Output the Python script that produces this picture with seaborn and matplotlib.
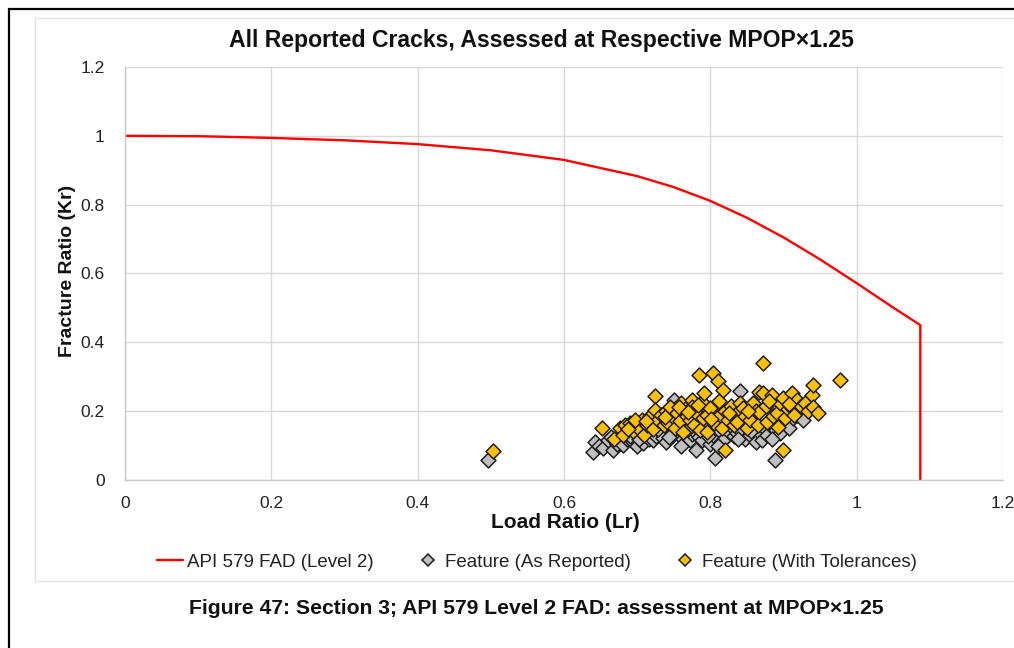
import matplotlib
matplotlib.use("Agg")
import matplotlib.pyplot as plt
import seaborn as sns
import pandas as pd
from matplotlib.patches import Rectangle
from matplotlib.lines import Line2D

# ---------------- data ----------------
fad_lr = [0.0, 0.1, 0.2, 0.3, 0.4, 0.5, 0.6, 0.7, 0.75, 0.8, 0.85, 0.9, 0.95, 1.0, 1.05, 1.087, 1.087]
fad_kr = [1.0, 0.999, 0.994, 0.987, 0.976, 0.958, 0.930, 0.883, 0.851, 0.811, 0.762, 0.705, 0.641, 0.572, 0.501, 0.450, 0.0]

rep_lr = [0.496, 0.639, 0.642, 0.648, 0.653, 0.660, 0.667, 0.672, 0.680, 0.686, 0.694, 0.700,
          0.708, 0.713, 0.716, 0.721, 0.726, 0.731, 0.735, 0.740, 0.745, 0.749, 0.751, 0.754,
          0.756, 0.758, 0.762, 0.765, 0.768, 0.772, 0.775, 0.779, 0.781, 0.785, 0.788, 0.790,
          0.795, 0.799, 0.803, 0.806, 0.812, 0.816, 0.820, 0.825, 0.829, 0.833, 0.836, 0.840,
          0.843, 0.847, 0.851, 0.854, 0.858, 0.863, 0.867, 0.870, 0.874, 0.878, 0.882, 0.888,
          0.890, 0.895, 0.900, 0.904, 0.908, 0.913, 0.918, 0.922, 0.926,
          0.664, 0.690, 0.703, 0.728, 0.744, 0.760, 0.770, 0.797, 0.810, 0.838, 0.856, 0.884]
rep_kr = [0.058, 0.081, 0.110, 0.100, 0.093, 0.115, 0.087, 0.105, 0.102, 0.120, 0.110, 0.098,
          0.107, 0.137, 0.118, 0.116, 0.128, 0.140, 0.122, 0.110, 0.150, 0.131, 0.233, 0.174,
          0.210, 0.145, 0.120, 0.189, 0.160, 0.116, 0.135, 0.140, 0.087, 0.125, 0.116, 0.150,
          0.160, 0.105, 0.131, 0.064, 0.145, 0.112, 0.122, 0.140, 0.154, 0.128, 0.137, 0.259,
          0.140, 0.118, 0.154, 0.131, 0.165, 0.110, 0.140, 0.116, 0.150, 0.130, 0.160, 0.058,
          0.145, 0.137, 0.170, 0.160, 0.151, 0.180, 0.190, 0.200, 0.175,
          0.125, 0.128, 0.118, 0.148, 0.125, 0.100, 0.148, 0.128, 0.100, 0.118, 0.142, 0.120]

tol_lr = [0.503, 0.652, 0.669, 0.676, 0.680, 0.684, 0.690, 0.694, 0.700, 0.706, 0.710, 0.714,
          0.718, 0.722, 0.725, 0.725, 0.728, 0.732, 0.736, 0.740, 0.742, 0.745, 0.749, 0.752,
          0.755, 0.758, 0.760, 0.762, 0.765, 0.768, 0.772, 0.775, 0.775, 0.778, 0.781, 0.784,
          0.786, 0.788, 0.790, 0.792, 0.795, 0.796, 0.799, 0.803, 0.805, 0.810, 0.812, 0.813,
          0.816, 0.817, 0.820, 0.820, 0.824, 0.828, 0.832, 0.836, 0.836, 0.840, 0.845, 0.848,
          0.850, 0.854, 0.858, 0.862, 0.865, 0.867, 0.867, 0.872, 0.872, 0.876, 0.878, 0.884,
          0.886, 0.891, 0.892, 0.895, 0.899, 0.899, 0.902, 0.906, 0.911, 0.911, 0.915, 0.919,
          0.924, 0.929, 0.933, 0.939, 0.940, 0.940, 0.947, 0.977,
          0.688, 0.697, 0.712, 0.738, 0.757, 0.770, 0.783, 0.801, 0.826, 0.852, 0.880, 0.908]
tol_kr = [0.085, 0.150, 0.118, 0.150, 0.132, 0.160, 0.166, 0.142, 0.155, 0.174, 0.130, 0.160,
          0.185, 0.148, 0.244, 0.203, 0.174, 0.190, 0.160, 0.200, 0.166, 0.212, 0.183, 0.150,
          0.195, 0.170, 0.225, 0.140, 0.205, 0.185, 0.174, 0.233, 0.212, 0.160, 0.195, 0.305,
          0.145, 0.227, 0.180, 0.253, 0.140, 0.189, 0.210, 0.311, 0.165, 0.288, 0.230, 0.189,
          0.151, 0.262, 0.087, 0.200, 0.175, 0.215, 0.160, 0.195, 0.169, 0.225, 0.209, 0.185,
          0.150, 0.174, 0.224, 0.200, 0.160, 0.256, 0.198, 0.340, 0.253, 0.215, 0.169, 0.247,
          0.185, 0.195, 0.154, 0.225, 0.238, 0.087, 0.180, 0.205, 0.253, 0.209, 0.190, 0.233,
          0.215, 0.224, 0.200, 0.247, 0.276, 0.212, 0.195, 0.291,
          0.148, 0.175, 0.170, 0.182, 0.212, 0.198, 0.218, 0.178, 0.195, 0.200, 0.230, 0.222]

ticks = [0.0, 0.2, 0.4, 0.6, 0.8, 1.0, 1.2]
tick_labels = ["0", "0.2", "0.4", "0.6", "0.8", "1", "1.2"]

title = "All Reported Cracks, Assessed at Respective MPOP×1.25"
caption = "Figure 47: Section 3; API 579 Level 2 FAD: assessment at MPOP×1.25"
labels = ["API 579 FAD (Level 2)", "Feature (As Reported)", "Feature (With Tolerances)"]

# ---------------- style ----------------
sns.set_theme(style="whitegrid")
plt.rcParams["font.family"] = ["Liberation Sans", "DejaVu Sans"]

W, H = 1014, 648
fig = plt.figure(figsize=(W / 100, H / 100), dpi=100)
fig.patch.set_facecolor("white")

# frames
fig.add_artist(Rectangle((9 / W, -0.05), 1.2, 1 - 9 / H + 0.05, transform=fig.transFigure,
                         fill=False, ec="black", lw=1.6))
fig.add_artist(Rectangle((35 / W, 1 - 581 / H), 1.2, (581 - 18) / H, transform=fig.transFigure,
                         fill=False, ec="#e3e3e3", lw=1.0))

ax = fig.add_axes([125 / W, 1 - 480 / H, (1003 - 125) / W, (480 - 67) / H])
ax.set_facecolor("white")

fad = pd.DataFrame({"Lr": fad_lr, "Kr": fad_kr})
rep = pd.DataFrame({"Lr": rep_lr, "Kr": rep_kr})
tol = pd.DataFrame({"Lr": tol_lr, "Kr": tol_kr})

sns.lineplot(data=fad, x="Lr", y="Kr", sort=False, estimator=None, color="#ff0000",
             lw=1.7, ax=ax, zorder=2)
sns.scatterplot(data=rep, x="Lr", y="Kr", marker="D", s=58, color="#bfbfbf",
                edgecolor="#1e1e1e", linewidth=1.1, ax=ax, zorder=3)
sns.scatterplot(data=tol, x="Lr", y="Kr", marker="D", s=58, color="#ffc000",
                edgecolor="#1e1e1e", linewidth=1.1, ax=ax, zorder=4)

ax.set_xlim(0, 1.2)
ax.set_ylim(0, 1.2)
ax.set_xticks(ticks)
ax.set_xticklabels(tick_labels)
ax.set_yticks(ticks)
ax.set_yticklabels(tick_labels)
ax.grid(True, color="#d9d9d9", lw=1.0)
for s in ["top", "right"]:
    ax.spines[s].set_visible(False)
for s in ["left", "bottom"]:
    ax.spines[s].set_visible(True)
    ax.spines[s].set_color("#c8c8c8")
    ax.spines[s].set_linewidth(1.0)
ax.tick_params(axis="both", which="major", length=4.5, width=1, color="#c8c8c8",
               labelsize=12.5, labelcolor="#222222")
ax.tick_params(axis="y", pad=10)
ax.tick_params(axis="x", pad=7)
ax.set_xlabel("")
ax.set_ylabel("")

fig.text(541 / W, 1 - 40 / H, title, ha="center", va="center", fontsize=16.6,
         fontweight="bold", color="#111111")
fig.text(565 / W, 1 - 523 / H, "Load Ratio (Lr)", ha="center", va="center", fontsize=15,
         fontweight="bold", color="#111111")
fig.text(67 / W, 1 - 271 / H, "Fracture Ratio (Kr)", ha="center", va="center", rotation=90,
         fontsize=14, fontweight="bold", color="#111111")
fig.text(536 / W, 1 - 608 / H, caption, ha="center", va="center", fontsize=15.2,
         fontweight="bold", color="#111111")

handles = [
    Line2D([], [], color="#ff0000", lw=1.7),
    Line2D([], [], marker="D", ls="", markersize=6, mfc="#bfbfbf", mec="#1e1e1e", mew=1.1),
    Line2D([], [], marker="D", ls="", markersize=6, mfc="#ffc000", mec="#1e1e1e", mew=1.1),
]
fig.legend(handles, labels, loc="center", bbox_to_anchor=(537 / W, 1 - 562 / H), ncol=3,
           frameon=False, fontsize=13.5, handlelength=1.4, handletextpad=0.2,
           columnspacing=2.2, labelcolor="#222222")

fig.savefig("out.png", dpi=100)
